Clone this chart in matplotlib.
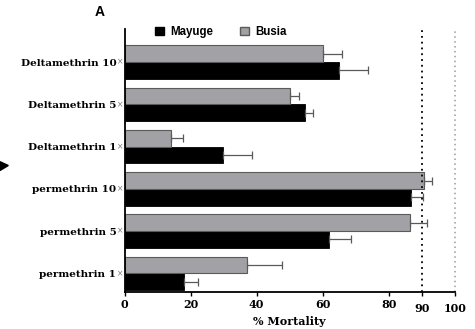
import numpy as np
import matplotlib
matplotlib.use("Agg")
from matplotlib import pyplot as plt
from matplotlib.patches import Patch, Polygon

# bioassay mortality (%) per insecticide dose, bottom to top
labels = ['permethrin 1', 'permethrin 5', 'permethrin 10',
          'Deltamethrin 1', 'Deltamethrin 5', 'Deltamethrin 10']
mayuge = [18.0, 62.0, 86.8, 29.7, 54.7, 65.0]
mayuge_err = [4.1, 6.6, 3.7, 9.0, 2.5, 8.6]
busia = [37.0, 86.5, 90.7, 14.0, 50.0, 60.1]
busia_err = [10.8, 5.0, 2.3, 3.8, 2.9, 5.8]
xticks = [0, 20, 40, 60, 80, 90, 100]

serif = 'DejaVu Serif'
sans = 'Liberation Sans'
gray = '#a2a2a6'
ecol = '#5a5a5a'

fig = plt.figure(figsize=(4.75, 3.29), dpi=100)
ax = fig.add_axes([0.2625, 0.1125, 0.6947, 0.799])

y = np.arange(len(labels))
h = 0.395
kw = dict(ecolor=ecol, capsize=3, error_kw=dict(elinewidth=0.9, capthick=0.9))
ax.barh(y - h / 2, mayuge, height=h, color='black', edgecolor='black', linewidth=0.6,
        xerr=[np.zeros(len(y)), mayuge_err], **kw)
ax.barh(y + h / 2, busia, height=h, color=gray, edgecolor=ecol, linewidth=0.8,
        xerr=[np.zeros(len(y)), busia_err], **kw)

# reference lines at 90 % and 100 %
ax.axvline(90, color='black', linestyle=(0, (1, 2.2)), linewidth=1.3)
ax.axvline(100, color='#9a9a9a', linestyle=(0, (1, 2.2)), linewidth=1.1, clip_on=False)

ax.set_xlim(0, 100)
ax.set_ylim(-0.44, 5.78)
ax.spines['top'].set_visible(False)
ax.spines['right'].set_visible(False)
ax.spines['left'].set_linewidth(1.3)
ax.spines['bottom'].set_linewidth(1.3)
ax.spines['bottom'].set_bounds(0, 100)

ax.set_xticks(xticks)
ax.set_xticklabels([str(t) for t in xticks], fontfamily=serif, fontweight='bold', fontsize=8)
for lab in ax.get_xticklabels()[-2:]:
    lab.set_y(-0.014)
ax.tick_params(axis='x', length=3, width=1, pad=2)

ax.set_yticks(y)
ax.set_yticklabels(labels, fontfamily=serif, fontweight='bold', fontsize=7.5)
ax.tick_params(axis='y', length=0, pad=6)
for yi in y:
    ax.annotate('×', xy=(0, yi), xycoords=('axes fraction', 'data'), xytext=(-3.2, 0),
                textcoords='offset points', ha='center', va='center', fontsize=5.5, color='#777777')

ax.set_xlabel('% Mortality', fontfamily=serif, fontweight='bold', fontsize=8, labelpad=2)

handles = [Patch(facecolor='black', edgecolor='black', label='Mayuge'),
           Patch(facecolor=gray, edgecolor=ecol, label='Busia')]
ax.legend(handles=handles, loc='center', bbox_to_anchor=(0.465, 0.903), bbox_transform=fig.transFigure,
          ncol=2, frameon=False, handlelength=0.75, handleheight=0.75, handletextpad=0.6,
          columnspacing=2.3, prop=dict(family=sans, weight='bold', size=8.3))

fig.text(0.2105, 0.963, 'A', fontfamily=sans, fontweight='bold', fontsize=10, ha='center', va='center')

# small arrow head at the left edge
fig.patches.append(Polygon([[0, 1 - 161.7 / 329], [8.3 / 475, 1 - 165.5 / 329], [0, 1 - 170.5 / 329]],
                           closed=True, color='black', transform=fig.transFigure, figure=fig))

fig.savefig('out.png', dpi=100)
